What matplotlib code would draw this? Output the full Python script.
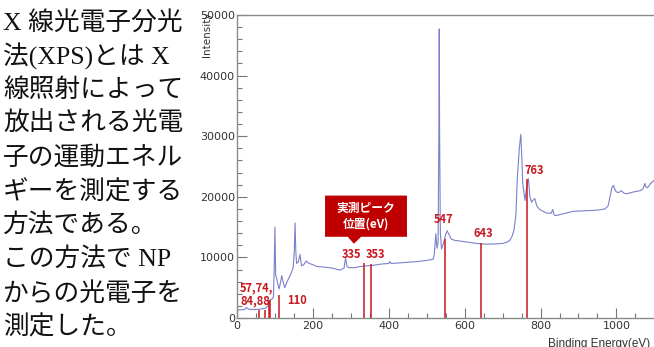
import matplotlib
matplotlib.use("Agg")
import matplotlib.pyplot as plt
from matplotlib.patches import Polygon
from matplotlib.ticker import MultipleLocator

# XPS survey spectrum (binding energy eV, counts)
energy = [0, 10, 20, 25, 30, 45, 60, 75, 82, 87, 92, 96, 98, 100, 102, 104,
          108, 111, 115, 118, 122, 126, 132, 140, 148, 151, 153, 155, 157,
          162, 166, 170, 176, 182, 190, 200, 210, 230, 254, 271, 282, 286,
          290, 295, 310, 325, 341, 360, 380, 400, 403, 406, 430, 450, 473,
          500, 517, 520, 524, 527, 530, 532, 533, 534, 536, 539, 545, 550,
          554, 560, 565, 575, 588, 610, 632, 650, 675, 700, 711, 719, 725,
          730, 735, 739, 744, 748, 751, 753, 759, 763, 768, 772, 776, 781,
          785, 790, 798, 816, 828, 832, 836, 840, 860, 886, 920, 950, 970,
          978, 983, 988, 992, 996, 1000, 1006, 1013, 1020, 1027, 1045, 1062,
          1070, 1075, 1078, 1082, 1090, 1099]
intensity = [1300, 1350, 1400, 1750, 1450, 1400, 1450, 1600, 2000, 3000,
             3100, 3500, 8000, 15000, 7000, 6700, 5500, 4800, 6000, 7000,
             5800, 5000, 6000, 7000, 8300, 11000, 15700, 11000, 9000, 9300,
             10500, 8600, 8800, 9400, 9000, 8800, 8500, 8400, 8200, 7900,
             8200, 9900, 8500, 8300, 8300, 8500, 8600, 8700, 8900, 9000,
             9300, 9000, 9100, 9200, 9300, 9500, 9700, 10500, 13900, 11500,
             12500, 30000, 47700, 30000, 14000, 11400, 12500, 13800, 14400,
             13600, 13000, 12800, 12700, 12500, 12300, 12200, 12200, 12300,
             12500, 12800, 13500, 14500, 17000, 23300, 28000, 30300, 26000,
             22200, 19400, 21500, 23000, 20000, 19100, 19500, 19700, 18500,
             17900, 17300, 17300, 17900, 17000, 16900, 17200, 17600, 17700,
             17800, 18000, 18500, 20000, 21500, 21900, 21200, 20800, 20700,
             21000, 20600, 20500, 20800, 21000, 21300, 22200, 21600, 21500,
             22200, 22700]

# measured peak positions and the height of their marker lines
peak_pos = [57, 74, 84, 88, 110, 335, 353, 547, 643, 763]
peak_top = [1300, 1300, 2900, 2900, 3800, 9000, 8900, 13000, 12300, 23000]

# label text and where it sits (E, I)
peak_labels = ["57,74,", "84,88", "110", "335", "353", "547", "643", "763"]
label_xy = [(8, 4900), (8, 2900), (132, 2900), (277, 10400), (339, 10400),
            (519, 16200), (623, 14000), (759, 24300)]

intro_lines = ["X 線光電子分光", "法(XPS)とは X", "線照射によって",
               "放出される光電", "子の運動エネル", "ギーを測定する",
               "方法である。", "この方法で NP", "からの光電子を",
               "測定した。"]

tick_font = ['Liberation Sans Narrow', 'DejaVu Sans']
red = '#c8161d'

fig = plt.figure(figsize=(6.54, 3.47), dpi=100)
ax = fig.add_axes([237 / 654, 29 / 347, 417 / 654, 303 / 347])

ax.plot(energy, intensity, color='#7c80ca', lw=0.8)
ax.vlines(peak_pos, 0, peak_top, color=red, lw=1.1)

for txt, (ex, iy) in zip(peak_labels, label_xy):
    ax.text(ex, iy, txt, color=red, fontsize=8, fontweight='bold',
            family=['Noto Sans CJK JP', 'DejaVu Sans'], ha='left', va='center')

# callout box "実測ピーク位置(eV)"
box = Polygon([(232, 20200), (448, 20200), (448, 13400), (327, 13400),
               (308, 12250), (292, 13400), (232, 13400)],
              closed=True, facecolor='#c00000', edgecolor='none')
ax.add_patch(box)
ax.text(340, 16800, "実測ピーク\n位置(eV)", color='white', fontsize=8.5,
        fontweight='bold', family=['Noto Sans CJK JP', 'DejaVu Sans'],
        ha='center', va='center', linespacing=1.25)

ax.set_xlim(0, 1099)
ax.set_ylim(0, 50000)
ax.xaxis.set_major_locator(MultipleLocator(200))
ax.xaxis.set_minor_locator(MultipleLocator(50))
ax.yaxis.set_major_locator(MultipleLocator(10000))
ax.yaxis.set_minor_locator(MultipleLocator(2000))
ax.tick_params(which='major', direction='in', length=7.5, width=0.8,
               color='#777777', labelsize=8, labelcolor='#333333')
ax.tick_params(which='minor', direction='in', length=3.8, width=0.8,
               color='#777777')
ax.tick_params(axis='y', pad=1.5)
ax.tick_params(axis='x', pad=2)
for lab in ax.get_xticklabels() + ax.get_yticklabels():
    lab.set_family(tick_font)

for side in ['left', 'bottom', 'top']:
    ax.spines[side].set_color('#8a8a8a')
    ax.spines[side].set_linewidth(1.0)
ax.spines['right'].set_visible(False)

ax.text(-0.072, 1.01, "Intensity", rotation=90, transform=ax.transAxes,
        ha='center', va='top', fontsize=7.5, color='#333333', family=tick_font)
fig.text(0.994, 0.026, "Binding Energy(eV)", ha='right', va='top',
         fontsize=8.5, color='#333333', family=['Liberation Sans', 'DejaVu Sans'])

# explanatory text on the left
for i, line in enumerate(intro_lines):
    yc = 22.5 + i * 33.9
    fig.text(3 / 654, 1 - yc / 347, line, ha='left', va='center',
             fontsize=18.5, color='#111111',
             family=['Liberation Serif', 'Noto Sans CJK JP'])

fig.savefig('out.png', dpi=100)
